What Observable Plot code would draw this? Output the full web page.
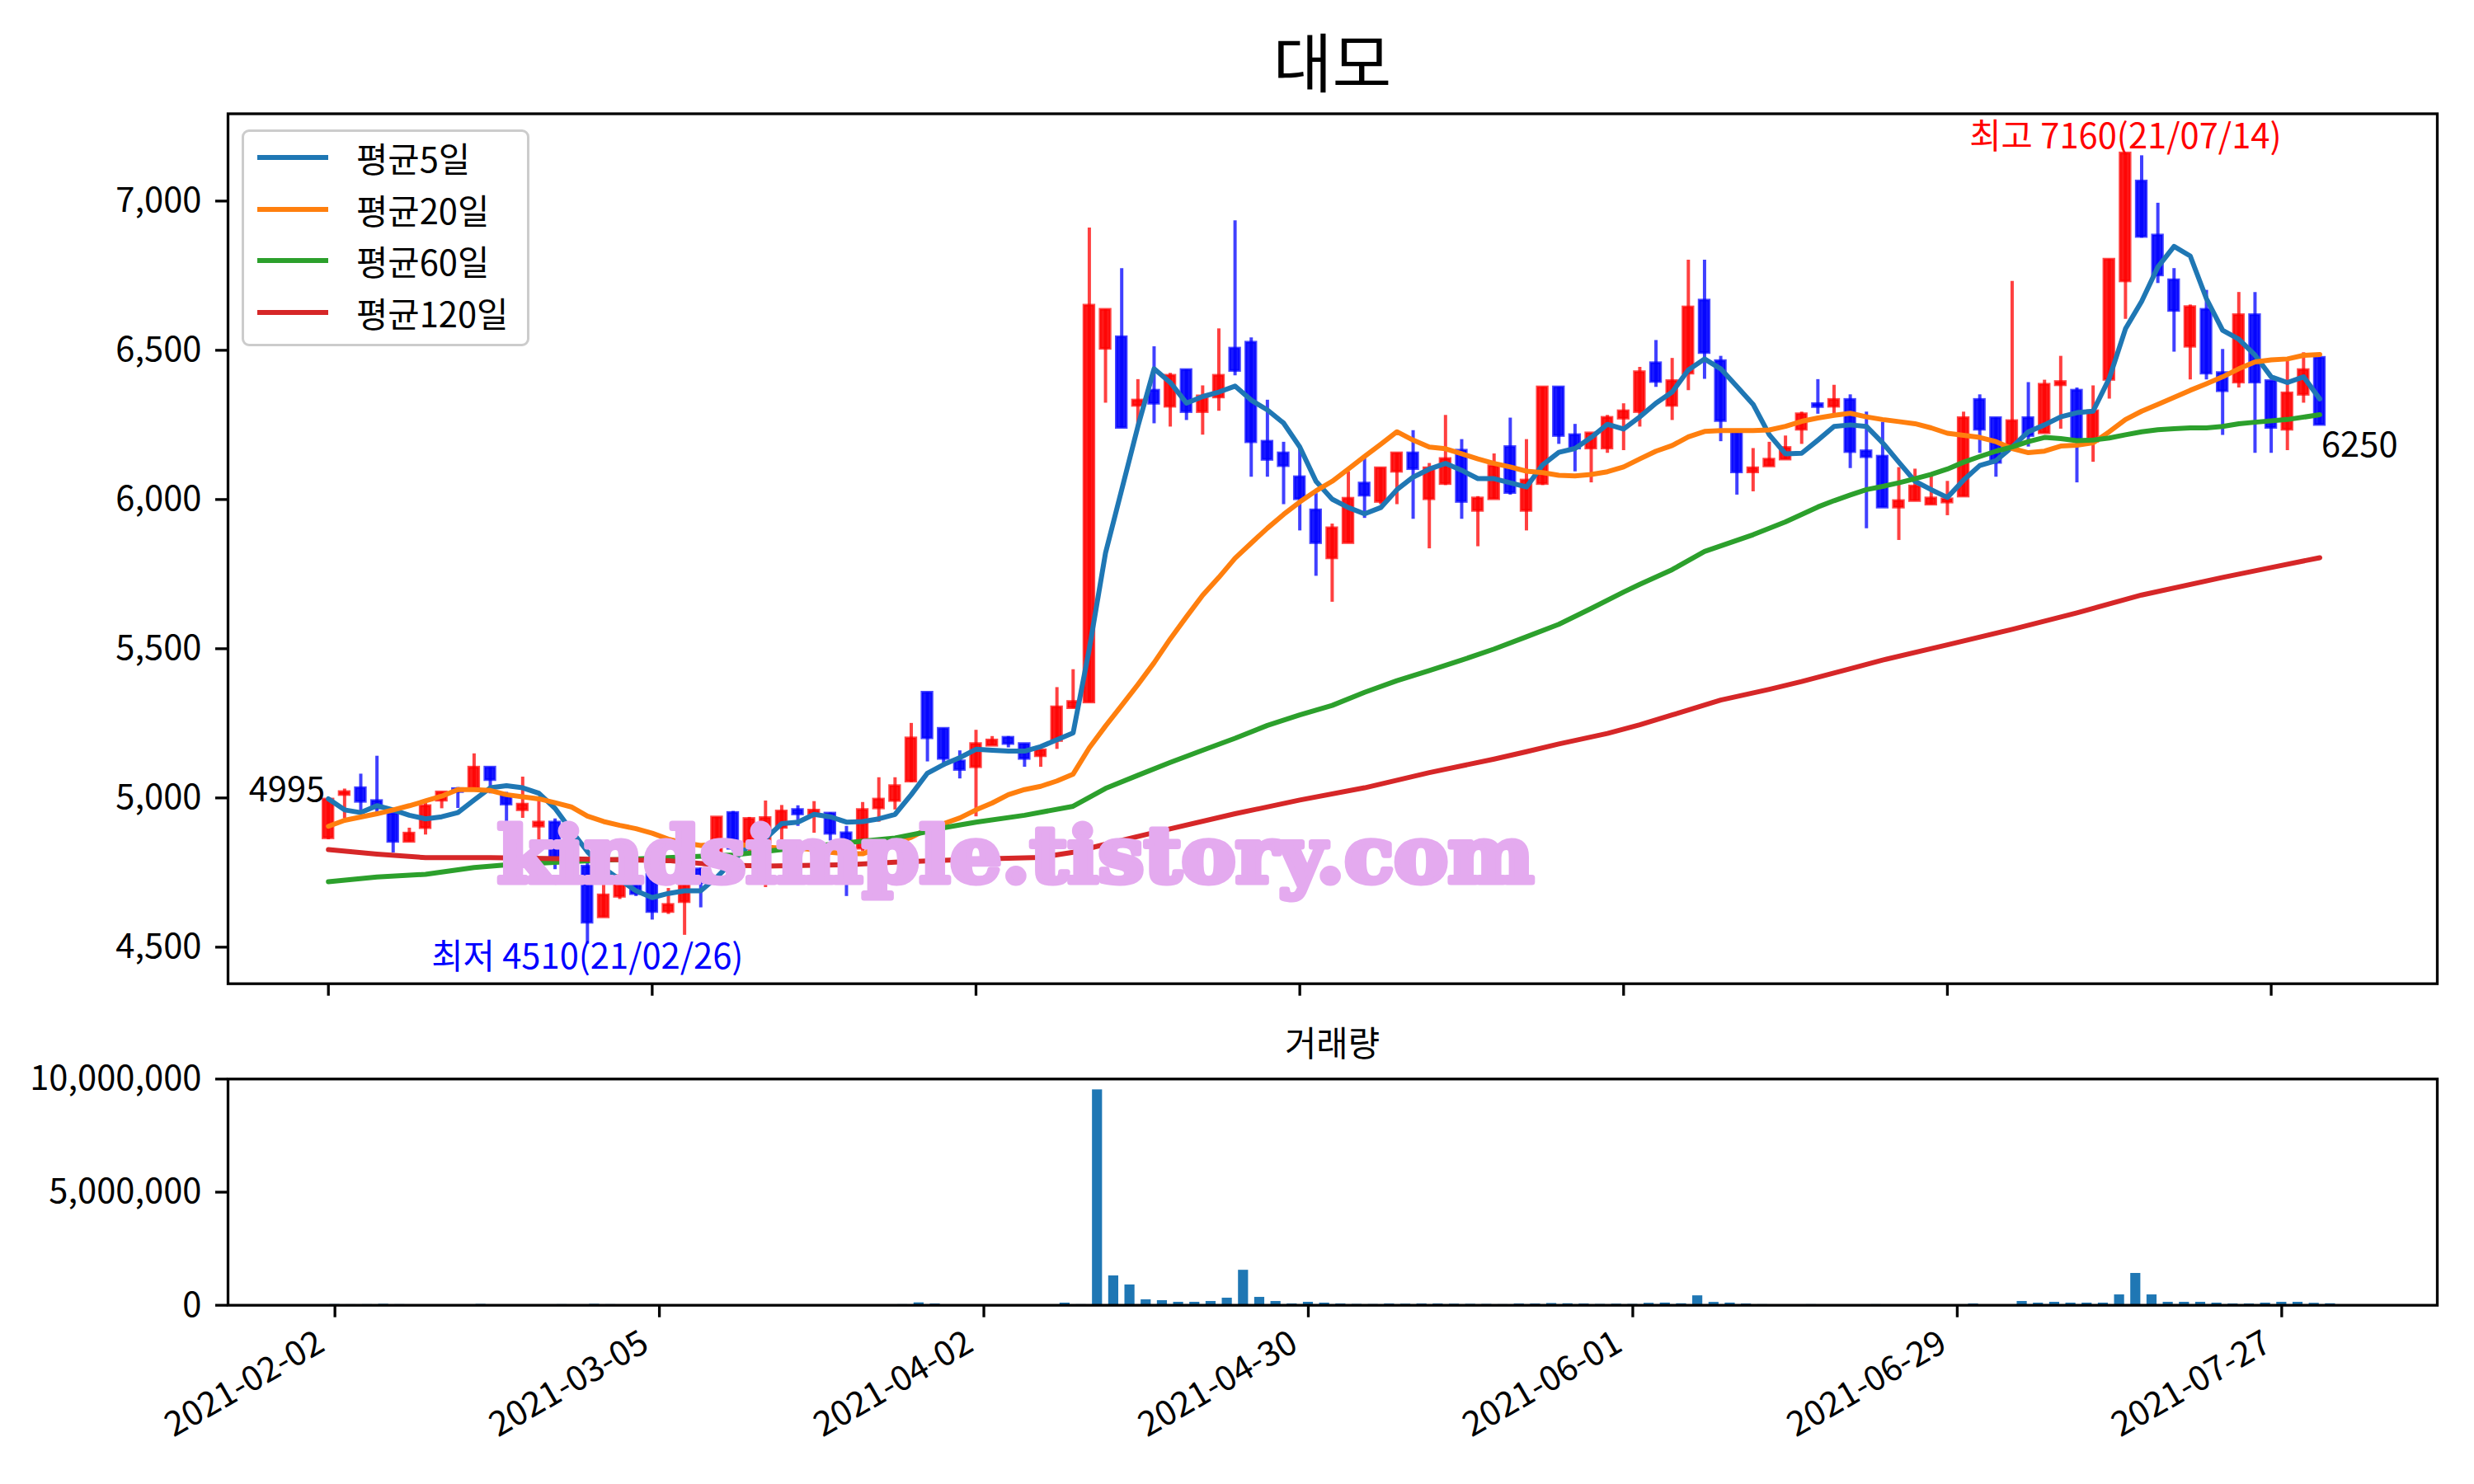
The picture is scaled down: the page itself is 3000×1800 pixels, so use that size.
<!DOCTYPE html>
<html>
<head>
<meta charset="utf-8">
<script src="https://cdn.jsdelivr.net/npm/d3@7"></script>
<script src="https://cdn.jsdelivr.net/npm/@observablehq/plot@0.6"></script>
<style>
  body { margin: 0; background: #fff; }
  #root { position: relative; width: 3000px; height: 1800px; background: #fff; font-family: "Noto Sans CJK KR", sans-serif; overflow: hidden; }
  .abs { position: absolute; }
</style>
</head>
<body>
<div id="root"></div>
<script>
// ---------------- data ----------------
const title = "대모";
const volTitle = "거래량";
const maNames = ["평균5일", "평균20일", "평균60일", "평균120일"];
const maColors = ["#1f77b4", "#ff7f0e", "#2ca02c", "#d62728"];
const tickIdx = [0, 20, 40, 60, 80, 100, 120];
const tickLabels = ["2021-02-02", "2021-03-05", "2021-04-02", "2021-04-30", "2021-06-01", "2021-06-29", "2021-07-27"];
const priceTicks = [4500, 5000, 5500, 6000, 6500, 7000];
const volTicks = [0, 5000000, 10000000];
const hiIdx = 111, hiVal = 7160, hiLabel = "최고 7160(21/07/14)";
const loIdx = 16, loVal = 4510, loLabel = "최저 4510(21/02/26)";
const watermark = "kindsimple.tistory.com";

const opens = [4865,5010,5033,4990,4947,4853,4899,4991,5030,5028,
  5102,5010,4959,4904,4918,4790,4770,4600,4669,4715,
  4743,4618,4651,4761,4800,4950,4830,4850,4900,4960,
  4945,4948,4882,4830,4965,4990,5055,5353,5232,5123,
  5103,5175,5202,5181,5140,5191,5301,5320,6505,6544,
  6314,6365,6311,6434,6293,6342,6506,6526,6194,6155,
  6075,5964,5803,5854,6054,5992,6093,6155,6001,6052,
  6164,5962,6001,6176,5962,6052,6376,6216,6171,6171,
  6271,6293,6457,6314,6422,6667,6464,6227,6091,6111,
  6134,6234,6320,6311,6334,6162,6144,5973,5995,5983,
  5990,6010,6334,6273,6180,6273,6222,6383,6365,6194,
  6401,6731,7066,6885,6735,6512,6636,6424,6392,6618,
  6397,6234,6351,6475];
const highs = [5000,5030,5080,5140,4947,4899,4982,5019,5035,5148,
  5102,5019,5070,4991,4930,4870,4790,4711,4740,4725,
  4750,4697,4724,4765,4935,4955,4935,4990,4975,4974,
  4988,4950,4905,4985,5068,5068,5250,5353,5232,5158,
  5227,5206,5206,5181,5160,5370,5430,6910,6636,6774,
  6402,6512,6423,6434,6381,6572,6934,6542,6333,6192,
  6167,6020,5918,6093,6139,6105,6155,6231,6121,6282,
  6201,6010,6153,6273,6201,6376,6376,6252,6222,6282,
  6321,6443,6533,6473,6802,6802,6480,6227,6171,6192,
  6213,6293,6402,6383,6351,6293,6259,6107,6102,6081,
  6061,6293,6351,6273,6731,6392,6400,6480,6374,6381,
  6804,7160,7152,6993,6774,6652,6701,6503,6694,6694,
  6397,6466,6492,6475];
const lows = [4860,4930,4955,4950,4816,4853,4876,4964,4965,5025,
  5014,4895,4932,4853,4760,4780,4510,4600,4660,4670,
  4591,4610,4540,4632,4790,4820,4820,4700,4855,4905,
  4882,4856,4670,4820,4919,4960,5052,5121,5103,5064,
  4937,5175,5168,5103,5103,5163,5300,5320,6323,6240,
  6245,6254,6243,6265,6216,6296,6415,6075,6075,5983,
  5895,5743,5656,5854,5937,5983,5983,5934,5835,6047,
  5934,5842,6001,6015,5895,6047,6185,6093,6056,6155,
  6164,6243,6376,6265,6365,6403,6194,6015,6026,6111,
  6134,6185,6286,6286,6104,5902,5973,5863,5995,5983,
  5946,6010,6155,6075,6180,6176,6222,6236,6056,6125,
  6337,6604,6876,6724,6494,6401,6401,6215,6374,6155,
  6155,6164,6323,6250];
const closes = [4995,5020,4987,4965,4853,4881,4973,5019,5020,5102,
  5060,4978,4978,4918,4800,4850,4582,4674,4738,4678,
  4618,4642,4724,4715,4935,4830,4930,4933,4955,4945,
  4958,4880,4835,4960,4995,5040,5200,5200,5131,5094,
  5181,5193,5181,5131,5160,5304,5322,6650,6636,6240,
  6332,6321,6415,6293,6346,6415,6431,6192,6133,6112,
  6001,5854,5904,6003,6013,6105,6155,6102,6105,6136,
  5992,6004,6112,6022,6064,6376,6213,6171,6222,6274,
  6296,6427,6394,6397,6644,6491,6263,6091,6105,6134,
  6173,6286,6310,6334,6159,6142,5973,5995,6044,6004,
  6001,6273,6234,6123,6263,6213,6385,6394,6200,6296,
  6804,7160,6880,6751,6632,6645,6422,6363,6618,6392,
  6240,6356,6434,6250];
const volumes = [35000,28000,30000,45000,30000,20000,22000,18000,20000,40000,
  25000,22000,20000,18000,30000,25000,45000,30000,22000,18000,
  25000,15000,25000,20000,22000,20000,18000,22000,15000,12000,
  15000,15000,18000,20000,20000,30000,110000,60000,25000,20000,
  25000,15000,12000,15000,20000,97000,30000,9525000,1300000,900000,
  243000,206000,134000,134000,170000,316000,1550000,352000,170000,61000,
  134000,97000,61000,40000,35000,60000,50000,60000,60000,50000,
  45000,40000,30000,60000,60000,80000,70000,60000,40000,50000,
  40000,90000,100000,70000,420000,130000,100000,60000,30000,25000,
  20000,30000,25000,20000,25000,30000,25000,15000,12000,15000,
  20000,61000,20000,25000,170000,97000,134000,97000,97000,97000,
  461000,1410000,461000,134000,134000,134000,97000,61000,61000,97000,
  134000,134000,90000,70000];
const ma5 = [4997,4960,4951,4974,4960,4942,4930,4937,4951,4993,
  5034,5041,5034,5016,4965,4891,4820,4765,4726,4689,
  4666,4680,4689,4689,4735,4790,4841,4864,4914,4919,
  4945,4937,4919,4921,4930,4945,5011,5083,5112,5135,
  5163,5160,5157,5157,5172,5195,5218,5500,5821,6033,
  6245,6438,6392,6323,6345,6360,6380,6333,6300,6256,
  6176,6061,6001,5973,5952,5973,6033,6075,6102,6121,
  6098,6070,6070,6056,6042,6116,6158,6171,6208,6252,
  6236,6277,6323,6360,6434,6471,6438,6379,6319,6217,
  6153,6155,6199,6245,6250,6245,6190,6125,6061,6033,
  6007,6065,6114,6130,6176,6227,6250,6277,6291,6296,
  6406,6572,6664,6779,6848,6816,6673,6567,6537,6484,
  6411,6392,6411,6337];
const ma20 = [4905,4925,4936,4947,4960,4974,4990,5006,5028,5028,
  5025,5011,5004,4997,4984,4970,4939,4921,4908,4897,
  4882,4862,4849,4841,4845,4845,4841,4835,4832,4832,
  4827,4818,4813,4813,4832,4850,4868,4896,4914,4933,
  4960,4983,5011,5028,5039,5057,5080,5168,5241,5310,
  5380,5453,5533,5607,5679,5739,5803,5854,5904,5950,
  5992,6029,6061,6102,6144,6185,6227,6199,6176,6170,
  6153,6136,6121,6109,6095,6090,6081,6079,6084,6093,
  6109,6136,6162,6181,6210,6228,6231,6231,6231,6233,
  6245,6262,6273,6282,6289,6277,6268,6261,6254,6240,
  6222,6215,6208,6194,6171,6157,6162,6179,6182,6190,
  6227,6268,6296,6319,6342,6366,6388,6411,6438,6461,
  6468,6471,6483,6486];
const ma60Idx = [0,3,6,9,11,15,20,25,28,32,35,37,38,40,43,46,48,50,52,54,56,58,60,62,64,66,68,70,72,74,76,78,80,81,83,85,88,90,92,93,94,95,96,97,98,99,100,101,102,103,104,105,106,107,108,109,110,111,112,113,114,115,116,117,118,119,121,123];
const ma60Val = [4719,4735,4744,4767,4776,4787,4798,4809,4827,4850,4866,4887,4900,4919,4942,4972,5032,5076,5119,5160,5200,5243,5278,5310,5354,5393,5427,5462,5499,5540,5582,5635,5690,5716,5765,5826,5882,5925,5975,5996,6015,6033,6044,6056,6070,6084,6102,6125,6144,6162,6176,6194,6208,6204,6197,6199,6206,6217,6227,6234,6237,6240,6240,6245,6254,6259,6268,6284];
const ma120Idx = [0,3,6,10,15,21,24,27,32,35,40,44,46,48,51,56,60,64,68,72,74,76,79,81,83,86,89,91,94,96,100,104,108,112,117,120,123];
const ma120Val = [4827,4812,4800,4800,4796,4790,4776,4772,4776,4785,4795,4801,4818,4845,4884,4947,4993,5034,5085,5130,5155,5181,5216,5245,5278,5328,5364,5390,5433,5462,5513,5565,5620,5680,5739,5772,5805];

// ---------------- build ----------------
const FS = 41.7;
const FONT = "'Noto Sans CJK KR', 'Noto Sans', sans-serif";
const UP = "#ff0000", DOWN = "#0000ff";
const candles = opens.map((o, i) => ({i, o, h: highs[i], l: lows[i], c: closes[i], col: closes[i] >= o ? UP : DOWN}));
const toSeries = (vals) => vals.map((v, i) => ({i, v}));
const sparse = (idx, vals) => idx.map((i, k) => ({i, v: vals[k]}));
const maSeries = [toSeries(ma5), toSeries(ma20), sparse(ma60Idx, ma60Val), sparse(ma120Idx, ma120Val)];
const last = closes.length - 1;

const root = d3.select("#root");

// title
root.append("div").attr("class", "abs")
  .style("left", "276px").style("width", "2679px").style("top", "33px")
  .style("text-align", "center").style("font-size", "78px").style("line-height", "78px")
  .text(title);

const mainPlot = Plot.plot({
  width: 3000, height: 1250,
  marginLeft: 276, marginRight: 45, marginTop: 137.5, marginBottom: 57.3,
  style: {fontFamily: FONT, fontSize: FS + "px", color: "black", background: "transparent", overflow: "visible"},
  x: {type: "linear", domain: [-6.2, 130.26]},
  y: {type: "linear", domain: [4377.5, 7292.5]},
  marks: [
    Plot.ruleX(candles, {x: "i", y1: "l", y2: "h", stroke: "col", strokeOpacity: 0.75, strokeWidth: 4}),
    Plot.rect(candles, {x1: d => d.i - 0.31, x2: d => d.i + 0.31, y1: "o", y2: "c", fill: "col", fillOpacity: 0.9, stroke: "col", strokeOpacity: 0.72, strokeWidth: 3.2}),
    ...maSeries.map((s, k) => Plot.line(s, {x: "i", y: "v", stroke: maColors[k], strokeWidth: 6})),
    Plot.text([{i: 0, v: closes[0]}], {x: "i", y: "v", text: d => String(d.v), textAnchor: "end", lineAnchor: "bottom", dx: -4, dy: 2, fill: "black"}),
    Plot.text([{i: last, v: closes[last]}], {x: "i", y: "v", text: d => String(d.v), textAnchor: "start", lineAnchor: "top", dx: 2, dy: 9, fill: "black"}),
    Plot.text([{i: hiIdx, v: hiVal}], {x: "i", y: "v", text: () => hiLabel, textAnchor: "middle", lineAnchor: "bottom", dy: -6, fill: "#ff0000"}),
    Plot.text([{i: loIdx, v: loVal}], {x: "i", y: "v", text: () => loLabel, textAnchor: "middle", lineAnchor: "top", fill: "#0000ff"}),
    Plot.axisY({ticks: priceTicks, tickFormat: d3.format(","), tickSize: 15, tickPadding: 17, strokeWidth: 3.3, label: null}),
    Plot.axisX({ticks: tickIdx, tickFormat: () => "", tickSize: 15, strokeWidth: 3.3, label: null}),
    Plot.frame({stroke: "black", strokeWidth: 3.3})
  ]
});
root.append("div").attr("class", "abs").style("left", "0px").style("top", "0px").node().appendChild(mainPlot);

// volume subtitle
root.append("div").attr("class", "abs")
  .style("left", "276px").style("width", "2679px").style("top", "1243px")
  .style("text-align", "center").style("font-size", FS + "px").style("line-height", FS + "px")
  .text(volTitle);

const volData = volumes.map((v, i) => ({i, v}));
const volPlot = Plot.plot({
  width: 3000, height: 550,
  marginLeft: 276, marginRight: 45, marginTop: 58.3, marginBottom: 217.3,
  style: {fontFamily: FONT, fontSize: FS + "px", color: "black", background: "transparent", overflow: "visible"},
  x: {type: "linear", domain: [-6.59, 129.59]},
  y: {type: "linear", domain: [0, d3.max(volumes) * 1.05]},
  marks: [
    Plot.rect(volData, {x1: d => d.i - 0.31, x2: d => d.i + 0.31, y1: 0, y2: "v", fill: "#1f77b4"}),
    Plot.axisY({ticks: volTicks, tickFormat: d3.format(","), tickSize: 15, tickPadding: 17, strokeWidth: 3.3, label: null}),
    Plot.axisX({ticks: tickIdx, tickFormat: () => "", tickSize: 15, strokeWidth: 3.3, label: null}),
    Plot.text(tickIdx, {x: d => d, frameAnchor: "bottom", text: (d, k) => tickLabels[k], rotate: -30, textAnchor: "end", lineAnchor: "top", dy: 28, dx: -25, fill: "black"}),
    Plot.frame({stroke: "black", strokeWidth: 3.3})
  ]
});
root.append("div").attr("class", "abs").style("left", "0px").style("top", "1250px").node().appendChild(volPlot);

// legend
const leg = root.append("div").attr("class", "abs")
  .style("left", "293px").style("top", "157px").style("width", "343px").style("height", "257px")
  .style("border", "3px solid #cccccc").style("border-radius", "9px").style("background", "rgba(255,255,255,0.8)");
maNames.forEach((name, k) => {
  const cy = 191 + k * 62.6 - 157 - 3;
  leg.append("div").attr("class", "abs")
    .style("left", (312 - 293 - 3) + "px").style("top", (cy - 3) + "px")
    .style("width", "86px").style("height", "6px").style("background", maColors[k]);
  leg.append("div").attr("class", "abs")
    .style("left", (432 - 293 - 3) + "px").style("top", (cy - 30) + "px")
    .style("height", "60px").style("line-height", "60px").style("font-size", FS + "px").style("white-space", "nowrap")
    .text(name);
});

// watermark
const wm = root.append("svg").attr("class", "abs").style("left", "0px").style("top", "0px")
  .attr("width", 3000).attr("height", 1800).style("pointer-events", "none");
wm.append("text").attr("x", 603).attr("y", 1070)
  .attr("textLength", 1257).attr("lengthAdjust", "spacingAndGlyphs")
  .attr("font-family", "DejaVu Serif").attr("font-weight", "bold").attr("font-size", 94)
  .attr("fill", "#e4aaef").attr("stroke", "#e4aaef").attr("stroke-width", 7).attr("stroke-linejoin", "round")
  .text(watermark);
</script>
</body>
</html>
